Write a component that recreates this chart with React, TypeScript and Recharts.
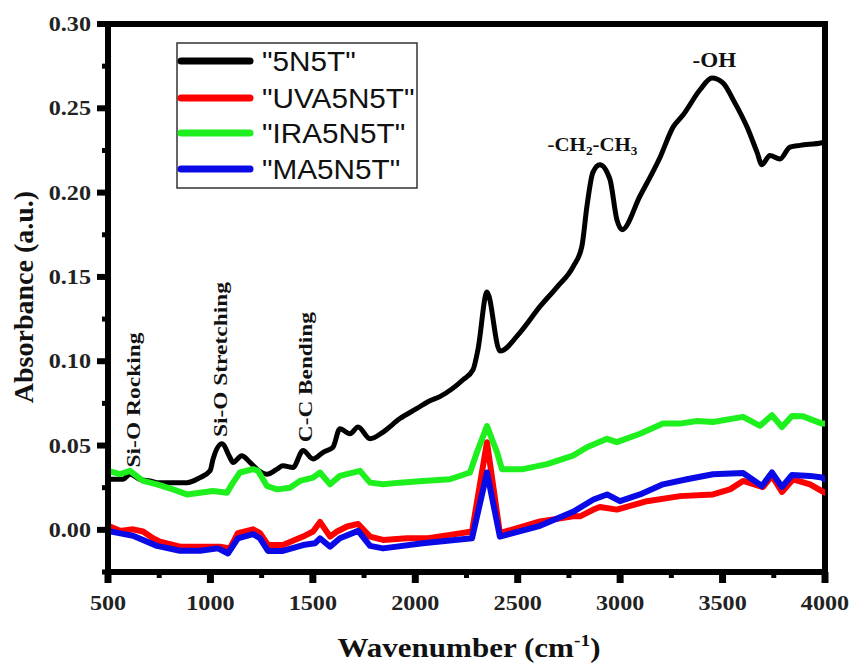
import React from 'react';
import { LineChart, Line, XAxis, YAxis, ReferenceArea } from 'recharts';

// FTIR absorbance spectra, wavenumber (cm-1) vs absorbance (a.u.)
const wn5N5T = [500, 573, 607, 656, 705, 739, 817, 885, 949, 998, 1013, 1056, 1095, 1110, 1153, 1193, 1227, 1276, 1325, 1354, 1403, 1452, 1501, 1550, 1598, 1632, 1681, 1721, 1779, 1843, 1925, 2008, 2062, 2120, 2233, 2282, 2306, 2350, 2413, 2511, 2609, 2692, 2770, 2813, 2838, 2867, 2901, 2950, 2984, 3009, 3097, 3195, 3259, 3307, 3390, 3448, 3503, 3552, 3619, 3668, 3692, 3731, 3780, 3829, 3878, 3985, 4000];
const abs5N5T = [0.030, 0.030, 0.033, 0.030, 0.029, 0.028, 0.028, 0.028, 0.031, 0.035, 0.042, 0.051, 0.043, 0.040, 0.044, 0.040, 0.036, 0.033, 0.036, 0.038, 0.037, 0.047, 0.042, 0.046, 0.049, 0.060, 0.057, 0.061, 0.054, 0.058, 0.066, 0.072, 0.076, 0.079, 0.089, 0.095, 0.107, 0.141, 0.106, 0.117, 0.1325, 0.144, 0.156, 0.168, 0.192, 0.212, 0.2166, 0.208, 0.184, 0.178, 0.198, 0.221, 0.239, 0.246, 0.261, 0.268, 0.265, 0.255, 0.239, 0.224, 0.2166, 0.222, 0.220, 0.227, 0.228, 0.2296, 0.230];

const wnUVA5N5T = [500, 559, 622, 671, 720, 754, 851, 949, 1047, 1095, 1134, 1208, 1242, 1281, 1354, 1452, 1501, 1535, 1584, 1618, 1667, 1721, 1779, 1843, 1959, 2062, 2169, 2277, 2350, 2413, 2609, 2770, 2804, 2870, 2901, 2984, 3131, 3292, 3453, 3536, 3600, 3697, 3741, 3790, 3844, 3927, 3985, 4000];
const absUVA5N5T = [0.0024, -0.0006, 0.0003, -0.001, -0.005, -0.007, -0.010, -0.010, -0.010, -0.011, -0.002, 0.0003, -0.002, -0.009, -0.009, -0.004, -0.001, 0.0047, -0.004, -0.001, 0.002, 0.0035, -0.004, -0.006, -0.005, -0.005, -0.003, -0.001, 0.052, -0.002, 0.005, 0.008, 0.008, 0.012, 0.0136, 0.012, 0.017, 0.020, 0.021, 0.024, 0.029, 0.0254, 0.032, 0.0225, 0.030, 0.027, 0.023, 0.022];

const wnIRA5N5T = [500, 559, 607, 671, 739, 817, 885, 949, 1013, 1081, 1110, 1144, 1208, 1232, 1276, 1325, 1388, 1437, 1501, 1535, 1584, 1632, 1730, 1779, 1843, 1925, 2037, 2169, 2267, 2301, 2350, 2399, 2423, 2526, 2643, 2770, 2838, 2936, 2984, 3097, 3209, 3292, 3375, 3453, 3600, 3683, 3741, 3790, 3839, 3893, 3985, 4000];
const absIRA5N5T = [0.035, 0.033, 0.035, 0.029, 0.027, 0.024, 0.021, 0.022, 0.023, 0.022, 0.028, 0.034, 0.036, 0.035, 0.026, 0.024, 0.025, 0.029, 0.031, 0.034, 0.027, 0.032, 0.035, 0.028, 0.027, 0.028, 0.029, 0.030, 0.034, 0.046, 0.0615, 0.046, 0.036, 0.036, 0.039, 0.044, 0.049, 0.054, 0.052, 0.057, 0.063, 0.063, 0.0645, 0.064, 0.067, 0.0617, 0.068, 0.061, 0.0675, 0.0673, 0.063, 0.063];

const wnMA5N5T = [500, 573, 622, 739, 851, 949, 1037, 1086, 1134, 1208, 1242, 1281, 1354, 1452, 1510, 1535, 1584, 1632, 1721, 1779, 1843, 2037, 2277, 2350, 2413, 2609, 2770, 2870, 2936, 2999, 3097, 3209, 3326, 3453, 3600, 3692, 3741, 3790, 3839, 3927, 3985, 4000];
const absMA5N5T = [-0.0006, -0.0024, -0.0035, -0.0095, -0.0124, -0.0124, -0.011, -0.014, -0.005, -0.0025, -0.005, -0.0125, -0.0125, -0.009, -0.008, -0.005, -0.010, -0.005, -0.0006, -0.0095, -0.011, -0.008, -0.005, 0.034, -0.004, 0.0024, 0.0107, 0.018, 0.021, 0.017, 0.021, 0.027, 0.030, 0.033, 0.0337, 0.026, 0.034, 0.0254, 0.0325, 0.032, 0.031, 0.030];

const wnTicks = [500, 750, 1000, 1250, 1500, 1750, 2000, 2250, 2500, 2750, 3000, 3250, 3500, 3750, 4000];
const absTicks = [-0.025, 0, 0.025, 0.05, 0.075, 0.1, 0.125, 0.15, 0.175, 0.2, 0.225, 0.25, 0.275, 0.3];

const WN_MIN = 500;
const WN_MAX = 4000;
const ABS_MIN = -0.025;
const ABS_MAX = 0.3;

const pair = (wn: number[], ab: number[]) => wn.map((w, i) => ({ wn: w, a: ab[i] }));

const series = [
  { name: '"5N5T"', color: '#000000', width: 5, curve: 'monotoneX', data: pair(wn5N5T, abs5N5T) },
  { name: '"UVA5N5T"', color: '#ff0000', width: 6, curve: 'linear', data: pair(wnUVA5N5T, absUVA5N5T) },
  { name: '"IRA5N5T"', color: '#1ef01e', width: 6, curve: 'linear', data: pair(wnIRA5N5T, absIRA5N5T) },
  { name: '"MA5N5T"', color: '#0a0ae6', width: 6, curve: 'linear', data: pair(wnMA5N5T, absMA5N5T) },
];

// chart geometry
const W = 849;
const H = 663;
const M = { top: 24, right: 24, bottom: 31, left: 48 };
const Y_AXIS_W = 60;
const X_AXIS_H = 60;
const PLOT_L = M.left + Y_AXIS_W;
const PLOT_T = M.top;
const PLOT_W = W - PLOT_L - M.right;
const PLOT_H = H - M.top - M.bottom - X_AXIS_H;

const px = (w: number) => PLOT_L + ((w - WN_MIN) / (WN_MAX - WN_MIN)) * PLOT_W;
const py = (v: number) => PLOT_T + ((ABS_MAX - v) / (ABS_MAX - ABS_MIN)) * PLOT_H;

const SERIF = '"Liberation Serif", "Times New Roman", serif';
const SANS = '"Liberation Sans", Arial, sans-serif';

const XTick = (props: any) => {
  const { x, y, payload } = props;
  const v = payload.value as number;
  const major = v % 500 === 0;
  return (
    <g>
      <line x1={x} x2={x} y1={y} y2={y + (major ? 11 : 6)} stroke="#000" strokeWidth={major ? 7 : 5} />
      {major && (
        <text
          transform={`translate(${x},${y + 38}) scale(1.15,1)`}
          textAnchor="middle"
          fontFamily={SERIF}
          fontWeight="bold"
          fontSize={21}
          fill="#222"
        >
          {v}
        </text>
      )}
    </g>
  );
};

const YTick = (props: any) => {
  const { x, y, payload } = props;
  const v = payload.value as number;
  const major = Math.round(v * 1000) % 50 === 0;
  return (
    <g>
      <line x1={x - (major ? 11 : 6)} x2={x} y1={y} y2={y} stroke="#000" strokeWidth={major ? 6 : 5} />
      {major && (
        <text
          transform={`translate(${x - 17},${y + 7}) scale(1.15,1)`}
          textAnchor="end"
          fontFamily={SERIF}
          fontWeight="bold"
          fontSize={21}
          fill="#222"
        >
          {v.toFixed(2)}
        </text>
      )}
    </g>
  );
};

const XTitle = () => (
  <text
    transform={`translate(${469},${657}) scale(1.15,1)`}
    textAnchor="middle"
    fontFamily={SERIF}
    fontWeight="bold"
    fontSize={27}
    fill="#111"
  >
    Wavenumber (cm
    <tspan dy={-11} fontSize={17}>-1</tspan>
    <tspan dy={11}>)</tspan>
  </text>
);

const YTitle = () => (
  <text
    transform={`translate(${33},${297}) rotate(-90)`}
    textAnchor="middle"
    fontFamily={SERIF}
    fontWeight="bold"
    fontSize={28}
    fill="#111"
  >
    Absorbance (a.u.)
  </text>
);

const bandLabels = [
  { text: 'Si-O Rocking', wn: 656, at: 0.037, len: 135 },
  { text: 'Si-O Stretching', wn: 1081, at: 0.055, len: 155 },
  { text: 'C-C Bending', wn: 1496, at: 0.052, len: 130 },
];

const Annotations = () => (
  <g fontFamily={SERIF} fill="#111">
    {bandLabels.map((b) => (
      <text
        key={b.text}
        transform={`translate(${px(b.wn)},${py(b.at)}) rotate(-90)`}
        fontSize={18}
        fontWeight="bold"
        textLength={b.len}
        lengthAdjust="spacingAndGlyphs"
      >
        {b.text}
      </text>
    ))}
    <text
      transform={`translate(${px(2865)},${py(0.2245)}) scale(1.1,1)`}
      textAnchor="middle"
      fontSize={19}
      fontWeight="bold"
    >
      -CH
      <tspan dy={4} fontSize={12}>2</tspan>
      <tspan dy={-4}>-CH</tspan>
      <tspan dy={4} fontSize={12}>3</tspan>
    </text>
    <text
      transform={`translate(${px(3460)},${py(0.2745)}) scale(1.1,1)`}
      textAnchor="middle"
      fontSize={21}
      fontWeight="bold"
    >
      -OH
    </text>
  </g>
);

const LegendBox = () => {
  const left = 177;
  const top = 43;
  const rows = [61, 98, 133, 169];
  return (
    <g>
      <rect x={left} y={top} width={240} height={145} fill="#fff" stroke="#333" strokeWidth={1.5} />
      {series.map((s, i) => (
        <g key={s.name}>
          <line x1={181} x2={250} y1={rows[i]} y2={rows[i]} stroke={s.color} strokeWidth={7} strokeLinecap="round" />
          <text
            transform={`translate(${262},${rows[i] + 10}) scale(1.1,1)`}
            fontFamily={SANS}
            fontSize={27}
            fill="#111"
          >
            {s.name}
          </text>
        </g>
      ))}
    </g>
  );
};

export default function App() {
  return (
    <div style={{ position: 'absolute', left: 0, top: 0, width: W, height: H, background: '#fff' }}>
      <LineChart width={W} height={H} margin={M}>
        <XAxis
          dataKey="wn"
          type="number"
          domain={[WN_MIN, WN_MAX]}
          ticks={wnTicks}
          interval={0}
          tickSize={0}
          tickMargin={0}
          height={X_AXIS_H}
          axisLine={{ stroke: '#000', strokeWidth: 6 }}
          tick={<XTick />}
          allowDataOverflow
        />
        <YAxis
          type="number"
          domain={[ABS_MIN, ABS_MAX]}
          ticks={absTicks}
          interval={0}
          tickSize={0}
          tickMargin={0}
          width={Y_AXIS_W}
          axisLine={{ stroke: '#000', strokeWidth: 6 }}
          tick={<YTick />}
          allowDataOverflow
        />
        {series.map((s) => (
          <Line
            key={s.name}
            data={s.data}
            dataKey="a"
            name={s.name}
            type={s.curve as any}
            stroke={s.color}
            strokeWidth={s.width}
            strokeLinejoin="round"
            strokeLinecap="round"
            dot={false}
            activeDot={false}
            isAnimationActive={false}
          />
        ))}
        <ReferenceArea
          x1={WN_MIN}
          x2={WN_MAX}
          y1={ABS_MIN}
          y2={ABS_MAX}
          fill="none"
          fillOpacity={0}
          stroke="#000"
          strokeWidth={6}
          ifOverflow="visible"
        />
        <Annotations />
        <LegendBox />
        <XTitle />
        <YTitle />
      </LineChart>
    </div>
  );
}
